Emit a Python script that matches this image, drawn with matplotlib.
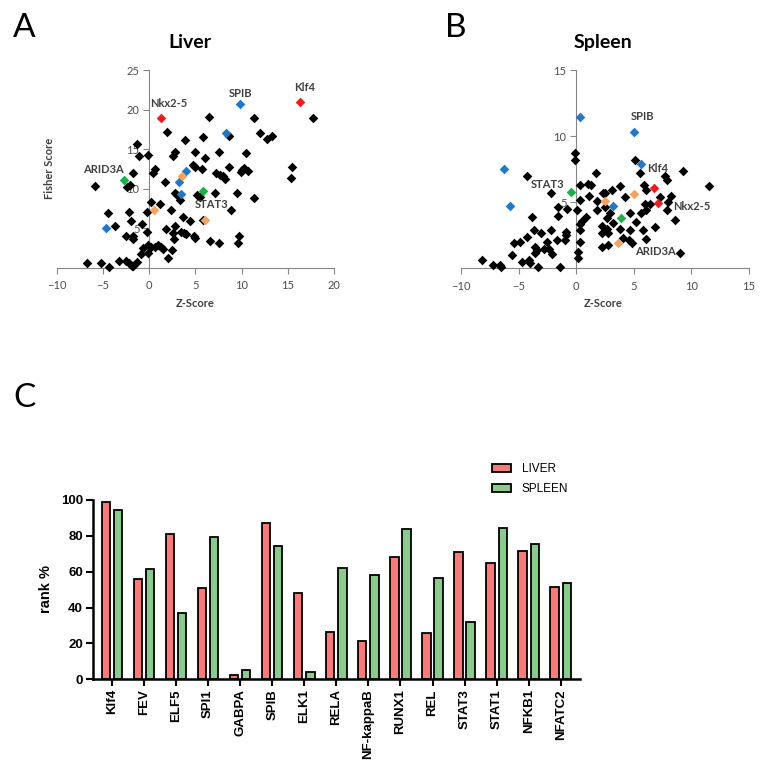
import matplotlib
matplotlib.use("Agg")
import matplotlib.pyplot as plt
import numpy as np

# ---------------- data ----------------
# Liver scatter: Z-score vs Fisher score
liver_black_x = [6.43, 11.37, 17.7, 1.9, 12.0, 8.6, 5.8, 13.3, 12.7, 3.9, -1.34, 2.8, 2.56, 4.98, 7.6,
                 10.5, -1.08, -0.07, 6.06, 4.8, 4.98, 5.7, 0.65, 0.47, -1.7, 8.6, 10.0, 10.3, 10.65, 9.9,
                 7.26, 7.7, 7.98, 8.2, 15.5, 15.4, -5.8, -2.1, -2.35, 1.73, 2.8, 3.0, 5.16, 5.5, 7.1,
                 9.5, 11.3, 0.22, 1.19, 3.36, 8.84, -4.4, -2.2, -0.18, 2.38, 3.65, 5.8, 4.4, -3.7, -2.0,
                 -0.72, 1.84, 2.8, -2.5, -1.7, -1.7, -0.25, 2.6, 2.7, 3.5, 3.8, 4.0, 5.0, 4.9, 6.6,
                 7.6, 9.7, 9.6, -0.07, 0.22, 0.65, 1.0, 1.26, 1.55, 2.45, -0.69, -0.9, -0.07, 2.0,
                 -6.75, -5.2, -4.3, -3.25, -2.5, -2.2, -1.9, -1.34, -1.7]
liver_black_y = [19.1, 19.0, 18.9, 17.2, 17.1, 16.7, 16.5, 16.7, 16.3, 16.1, 15.6, 14.7, 14.2, 14.7, 14.7,
                 14.5, 14.2, 14.3, 13.9, 13.0, 12.7, 12.5, 12.5, 12.0, 12.0, 12.7, 12.4, 12.6, 12.2, 12.1,
                 12.0, 11.8, 11.6, 11.3, 12.7, 11.4, 10.4, 10.5, 10.2, 10.8, 9.5, 9.2, 9.2, 9.0, 9.5,
                 9.5, 8.9, 8.3, 8.1, 8.6, 7.35, 6.9, 7.1, 7.1, 7.35, 6.4, 6.1, 5.9, 5.25, 5.9,
                 5.5, 4.9, 5.3, 4.1, 4.0, 3.6, 4.6, 4.4, 3.6, 4.6, 4.4, 4.3, 3.8, 4.0, 3.4,
                 3.2, 4.0, 3.2, 2.9, 2.7, 2.7, 2.9, 2.7, 2.4, 2.3, 2.5, 1.8, 1.9, 1.3,
                 0.63, 0.63, 0.13, 0.92, 0.92, 0.63, 0.21, 0.71, 0.21]
liver_red_x = [1.26, 16.35]
liver_red_y = [18.9, 20.9]
liver_blue_x = [9.78, 8.3, 3.97, 3.18, 3.43, -4.66]
liver_blue_y = [20.7, 17.1, 12.3, 10.8, 9.37, 5.04]
liver_green_x = [-2.67, 5.88]
liver_green_y = [11.1, 9.66]
liver_orange_x = [3.54, 0.54, 6.03]
liver_orange_y = [11.6, 7.35, 6.0]
liver_labels = ["Nkx2-5", "SPIB", "Klf4", "ARID3A", "STAT3"]
liver_label_x = [2.1, 9.86, 16.8, -4.95, 6.8]
liver_label_y = [20.8, 22.06, 22.8, 12.5, 8.07]

# Spleen scatter
spleen_black_x = [-0.09, -0.09, 5.06, 5.5, -4.28, 1.7, 9.3, 7.7, 7.9, 11.5, 0.29, 1.0, 1.27, 2.5, 3.1,
                  3.8, 5.9, 6.1, -2.2, 1.07, 2.3, 4.2, 7.3, 8.2, 8.0, 0.35, 1.8, 6.4, 6.0, -1.6,
                  -0.8, 0.06, 2.5, 2.9, 1.8, 4.7, 5.6, 6.1, 7.9, -1.6, 0.84, -3.85, 0.5, 0.29, 2.66,
                  5.18, 8.6, 6.8, -3.7, -3.1, -2.2, -0.9, 0.35, 2.2, 2.66, 3.18, 4.7, 5.8, 2.2,
                  2.8, 3.8, -0.9, -4.28, -2.5, -1.7, -0.95, 0.29, 2.2, 2.75, 4.1, 4.55, 4.8, 6.1,
                  -5.4, -4.9, -3.56, -3.4, -2.8, -2.4, -2.1, -5.6, -3.56, 0.12, 0.12, 9.0, -8.2, -7.2,
                  -6.5, -6.6, -4.7, -4.1, -4.0, -3.36, -1.45]
spleen_black_y = [8.75, 8.24, 8.24, 7.2, 7.03, 7.23, 7.4, 7.0, 6.7, 6.2, 6.3, 6.4, 6.3, 5.7, 5.9,
                  6.2, 6.3, 5.9, 5.7, 5.5, 5.7, 5.4, 5.4, 5.5, 5.0, 5.2, 5.1, 4.9, 4.9, 4.66,
                  4.5, 4.4, 4.66, 4.16, 4.4, 4.16, 4.16, 4.4, 4.4, 3.98, 3.9, 3.9, 3.6, 3.35, 3.78,
                  3.5, 3.66, 3.15, 2.9, 2.7, 2.9, 2.77, 2.9, 3.2, 3.0, 3.4, 2.9, 2.9, 2.65,
                  2.65, 3.0, 2.5, 2.4, 2.0, 2.14, 2.14, 1.97, 1.64, 1.76, 2.27, 2.14, 1.89, 2.2,
                  1.89, 2.0, 1.64, 1.39, 1.44, 1.5, 1.08, 1.0, 1.13, 1.26, 0.76, 1.18, 0.63, 0.25,
                  0.13, 0.25, 0.5, 0.63, 0.38, 0.08, 0.08]
spleen_red_x = [6.71, 7.09]
spleen_red_y = [6.05, 4.92]
spleen_blue_x = [0.29, 4.98, 5.64, -6.28, -5.73, 3.18]
spleen_blue_y = [11.47, 10.3, 7.94, 7.54, 4.69, 4.69]
spleen_green_x = [-0.43, 3.85]
spleen_green_y = [5.75, 3.83]
spleen_orange_x = [2.52, 5.0, 3.59]
spleen_orange_y = [5.09, 5.62, 1.89]
spleen_labels = ["SPIB", "Klf4", "STAT3", "Nkx2-5", "ARID3A"]
spleen_label_x = [5.76, 7.06, -2.49, 10.04, 6.86]
spleen_label_y = [11.47, 7.56, 6.35, 4.66, 1.26]

# Bar chart: rank %
tf_names = ["Klf4", "FEV", "ELF5", "SPI1", "GABPA", "SPIB", "ELK1", "RELA", "NF-kappaB",
            "RUNX1", "REL", "STAT3", "STAT1", "NFKB1", "NFATC2"]
liver_rank = [98.7, 56.1, 81.2, 51.1, 2.2, 87.4, 48.3, 26.6, 21.4, 68.2, 26.0, 70.8, 64.9, 71.7, 51.7]
spleen_rank = [94.2, 61.3, 36.8, 79.6, 5.0, 74.3, 3.9, 62.3, 58.0, 83.8, 56.3, 31.8, 84.6, 75.3, 53.5]

# ---------------- figure ----------------
fig = plt.figure(figsize=(7.69, 7.71), dpi=100)

xl_font = "Lato"
gray_axis = "#868686"
gray_text = "#4d4d4d"
dmd = dict(marker="D", s=24, linewidths=0, clip_on=False, zorder=5)


def excel_axes(ax, xlim, ylim, xticks, yticks):
    ax.set_xlim(*xlim)
    ax.set_ylim(*ylim)
    for s in ["top", "right"]:
        ax.spines[s].set_visible(False)
    ax.spines["left"].set_position(("data", 0))
    ax.spines["left"].set_color(gray_axis)
    ax.spines["bottom"].set_color(gray_axis)
    ax.set_xticks(xticks)
    ax.set_yticks(yticks)
    ax.tick_params(direction="out", length=4, width=0.8, color=gray_axis,
                   labelcolor=gray_text, labelsize=8, pad=3)
    ax.tick_params(axis="x", pad=5)
    for lab in ax.get_xticklabels() + ax.get_yticklabels():
        lab.set_family(xl_font)
    ax.set_facecolor("none")


def draw_group(ax, xs, ys, col):
    ax.scatter(xs, ys, color=col, **dmd)


colors = {"black": "#000000", "red": "#EE1C1C", "blue": "#1F78C8",
          "green": "#1DB04B", "orange": "#F4A45E"}

# panel A - Liver
ax1 = fig.add_axes([0.0737, 0.6524, 0.3606, 0.2568])
excel_axes(ax1, (-10, 20), (0, 25), [-10, -5, 0, 5, 10, 15, 20], [5, 10, 15, 20, 25])
draw_group(ax1, liver_black_x, liver_black_y, colors["black"])
draw_group(ax1, liver_red_x, liver_red_y, colors["red"])
draw_group(ax1, liver_blue_x, liver_blue_y, colors["blue"])
draw_group(ax1, liver_green_x, liver_green_y, colors["green"])
draw_group(ax1, liver_orange_x, liver_orange_y, colors["orange"])
for t, x, y in zip(liver_labels, liver_label_x, liver_label_y):
    ax1.text(x, y, t, ha="center", va="center", fontsize=8, fontweight="bold",
             family=xl_font, color="#404040", zorder=6)

# panel B - Spleen
ax2 = fig.add_axes([0.5995, 0.652, 0.3745, 0.2568])
excel_axes(ax2, (-10, 15), (0, 15), [-10, -5, 0, 5, 10, 15], [5, 10, 15])
draw_group(ax2, spleen_black_x, spleen_black_y, colors["black"])
draw_group(ax2, spleen_red_x, spleen_red_y, colors["red"])
draw_group(ax2, spleen_blue_x, spleen_blue_y, colors["blue"])
draw_group(ax2, spleen_green_x, spleen_green_y, colors["green"])
draw_group(ax2, spleen_orange_x, spleen_orange_y, colors["orange"])
for t, x, y in zip(spleen_labels, spleen_label_x, spleen_label_y):
    ax2.text(x, y, t, ha="center", va="center", fontsize=8, fontweight="bold",
             family=xl_font, color="#404040", zorder=6)

# titles / axis labels for the scatter panels
fig.text(0.247, 0.938, "Liver", ha="center", va="baseline", fontsize=14,
         fontweight="bold", family=xl_font)
fig.text(0.784, 0.938, "Spleen", ha="center", va="baseline", fontsize=14,
         fontweight="bold", family=xl_font)
fig.text(0.065, 0.782, "Fisher Score", rotation=90, ha="center", va="center",
         fontsize=8, fontweight="bold", family=xl_font, color="#404040")
fig.text(0.2536, 0.606, "Z-Score", ha="center", va="center",
         fontsize=8, fontweight="bold", family=xl_font, color="#404040")
fig.text(0.784, 0.607, "Z-Score", ha="center", va="center",
         fontsize=8, fontweight="bold", family=xl_font, color="#404040")

# panel letters
fig.text(0.017, 0.952, "A", fontsize=24, family=xl_font, va="baseline")
fig.text(0.579, 0.952, "B", fontsize=24, family=xl_font, va="baseline")
fig.text(0.017, 0.472, "C", fontsize=24, family=xl_font, va="baseline")

# panel C - bar chart
ax3 = fig.add_axes([0.1205, 0.1189, 0.6337, 0.2326])
pos = np.arange(len(tf_names))
bw = 0.26
ax3.bar(pos - 0.19, liver_rank, bw, color="#F67B7B", edgecolor="black", linewidth=1.3,
        label="LIVER")
ax3.bar(pos + 0.19, spleen_rank, bw, color="#8CCA8C", edgecolor="black", linewidth=1.3,
        label="SPLEEN")
ax3.set_xlim(-0.6, 14.6)
ax3.set_ylim(0, 100)
ax3.set_yticks([0, 20, 40, 60, 80, 100])
ax3.set_xticks(pos)
ax3.set_xticklabels(tf_names, rotation=90)
for s in ["top", "right"]:
    ax3.spines[s].set_visible(False)
for s in ["left", "bottom"]:
    ax3.spines[s].set_linewidth(1.8)
ax3.tick_params(direction="out", length=5, width=1.5, labelsize=9.5, pad=2)
for lab in ax3.get_xticklabels() + ax3.get_yticklabels():
    lab.set_family("Liberation Sans")
    lab.set_fontweight("bold")
fig.text(45.7 / 769, 1 - 589 / 771, "rank %", rotation=90, ha="center", va="center",
         fontsize=10.5, fontweight="bold", family="Liberation Sans")
ax3.legend(loc="upper left", bbox_to_anchor=(491.7 / 769, 1 - 463 / 771),
           bbox_transform=fig.transFigure, frameon=False, borderpad=0, borderaxespad=0,
           handlelength=1.6, handleheight=0.7, handletextpad=0.95, labelspacing=0.7,
           prop={"family": "Liberation Sans", "size": 8.5})

plt.savefig("out.png", dpi=100)
